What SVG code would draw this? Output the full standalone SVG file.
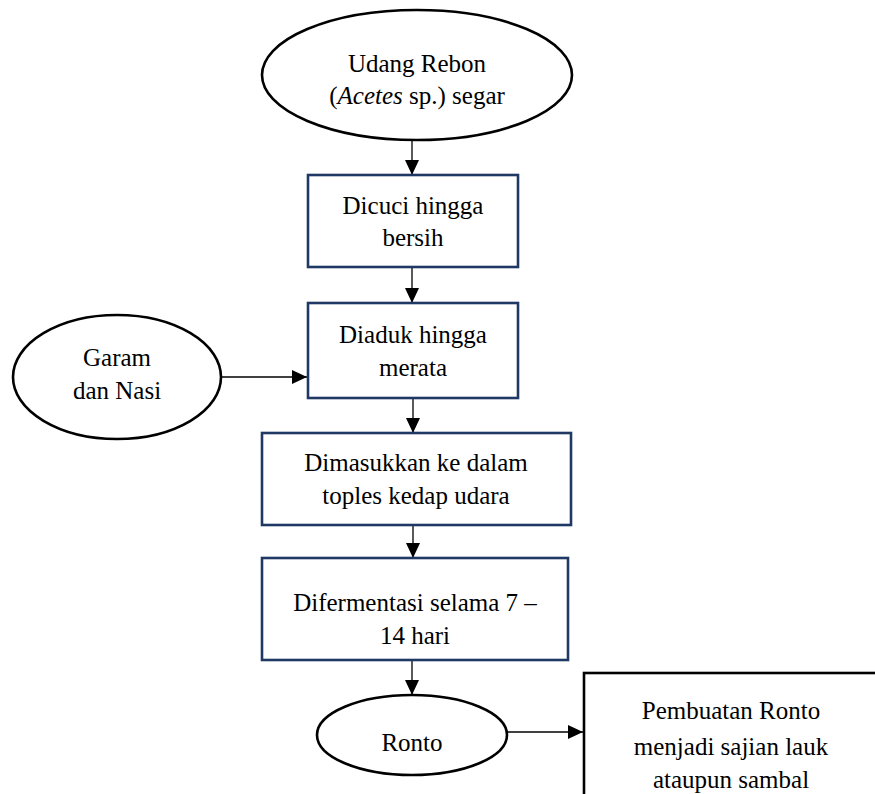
<svg xmlns="http://www.w3.org/2000/svg" width="875" height="794" viewBox="0 0 875 794">
<style>
text{font-family:"Liberation Serif","Times New Roman",serif;font-size:25px;fill:#000;text-anchor:middle}
.ell{fill:#fff;stroke:#000;stroke-width:2.6}
.box{fill:#fff;stroke:#1f3864;stroke-width:2.6}
.bbox{fill:#fff;stroke:#000;stroke-width:2.6}
.con{stroke:#000;stroke-width:1.3;fill:none;marker-end:url(#ah)}
</style>
<defs>
<marker id="ah" markerWidth="15" markerHeight="15" refX="15" refY="7" orient="auto" markerUnits="userSpaceOnUse">
<path d="M0,0 L15,7 L0,14 Z" fill="#000"/>
</marker>
</defs>
<rect width="875" height="794" fill="#fff"/>
<g id="connectors">
<line class="con" x1="412" y1="140" x2="412" y2="175"/>
<line class="con" x1="412" y1="267" x2="412" y2="303"/>
<line class="con" x1="413" y1="398" x2="413" y2="433"/>
<line class="con" x1="413" y1="525" x2="413" y2="558"/>
<line class="con" x1="412" y1="660" x2="412" y2="695"/>
<line class="con" x1="221" y1="377" x2="307" y2="377"/>
<line class="con" x1="507" y1="732" x2="583" y2="732"/>
</g>
<g id="udang">
<ellipse class="ell" cx="417" cy="75" rx="155" ry="65"/>
<text x="417" y="72">Udang Rebon</text>
<text x="417" y="104">(<tspan font-style="italic">Acetes</tspan> sp.) segar</text>
</g>
<g id="dicuci">
<rect class="box" x="308" y="175" width="210" height="92"/>
<text x="413" y="214">Dicuci hingga</text>
<text x="413" y="246">bersih</text>
</g>
<g id="garam">
<ellipse class="ell" cx="117" cy="377" rx="104" ry="62"/>
<text x="117" y="366">Garam</text>
<text x="117" y="399">dan Nasi</text>
</g>
<g id="diaduk">
<rect class="box" x="308" y="303" width="210" height="95"/>
<text x="413" y="343">Diaduk hingga</text>
<text x="413" y="376">merata</text>
</g>
<g id="dimasukkan">
<rect class="box" x="262" y="433" width="309" height="92"/>
<text x="416" y="471">Dimasukkan ke dalam</text>
<text x="416" y="504">toples kedap udara</text>
</g>
<g id="difermentasi">
<rect class="box" x="262" y="558" width="306" height="102"/>
<text x="415" y="611">Difermentasi selama 7 –</text>
<text x="415" y="644">14 hari</text>
</g>
<g id="ronto">
<ellipse class="ell" cx="412" cy="735" rx="95" ry="40"/>
<text x="412" y="751">Ronto</text>
</g>
<g id="pembuatan">
<rect class="bbox" x="584" y="673" width="296" height="140"/>
<text x="731" y="719">Pembuatan Ronto</text>
<text x="731" y="755">menjadi sajian lauk</text>
<text x="731" y="788">ataupun sambal</text>
</g>
</svg>
